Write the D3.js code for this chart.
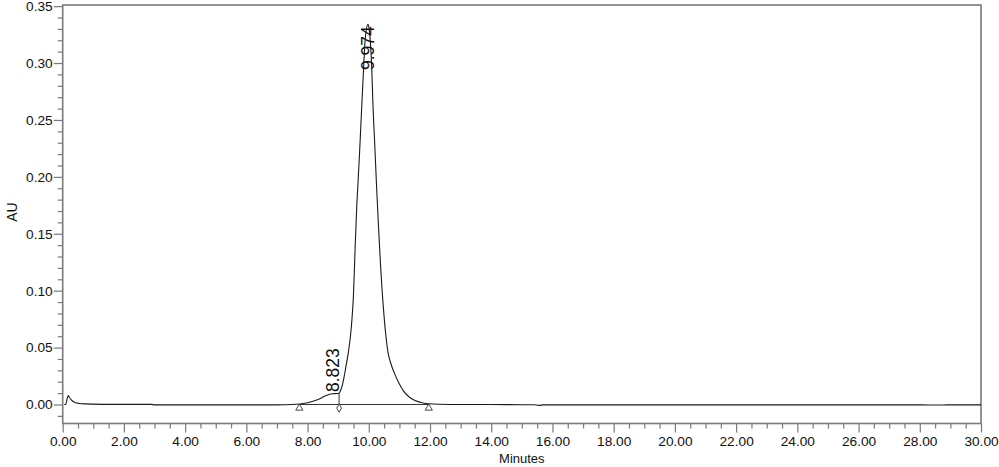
<!DOCTYPE html>
<html>
<head>
<meta charset="utf-8">
<script src="https://cdn.jsdelivr.net/npm/d3@7/dist/d3.min.js"></script>
<style>
  html, body { margin: 0; padding: 0; background: #fff; }
  svg { display: block; font-family: "Liberation Sans", Arial, sans-serif; }
</style>
</head>
<body>
<svg id="chart" width="999" height="467"></svg>
<script>
// ---- data ----
const times = [0.05, 0.10, 0.14, 0.18, 0.22, 0.30, 0.40, 0.55, 0.75, 1.0, 1.5, 2.0, 2.9, 3.0, 3.1, 4.0, 5.0, 6.0, 7.0, 7.5, 7.75,
  8.0, 8.2, 8.4, 8.55, 8.7, 8.823, 8.95, 9.03, 9.08, 9.12, 9.17, 9.25, 9.333, 9.40, 9.45, 9.497, 9.55, 9.608, 9.65, 9.70, 9.74, 9.782, 9.824, 9.88, 9.974,
  10.01, 10.098, 10.131, 10.20, 10.26, 10.32, 10.38, 10.44, 10.50, 10.56, 10.62, 10.72, 10.86, 11.0, 11.13, 11.30, 11.51, 11.75, 11.95, 12.3,
  13.0, 14.0, 15.0, 15.4, 15.55, 15.7, 16.0, 17.0, 18.0, 20.0, 22.0, 24.0, 26.0, 28.0, 28.6, 28.9, 30.0];
const absorbance = [0.0, 0.0002, 0.0045, 0.0079, 0.0062, 0.0035, 0.0018, 0.0009, 0.0005, 0.0003, 0.0001, 0.0001, 0.0001, -0.0003, -0.0003, -0.0003, -0.0003, -0.0003, -0.0003, 0.0, 0.0005,
  0.0015, 0.003, 0.005, 0.0072, 0.0088, 0.0094, 0.0096, 0.0099, 0.0125, 0.0155, 0.021, 0.033, 0.046, 0.060, 0.075, 0.095, 0.135, 0.175, 0.196, 0.222, 0.245, 0.269, 0.292, 0.320, 0.334,
  0.330, 0.294, 0.267, 0.225, 0.188, 0.155, 0.124, 0.098, 0.077, 0.060, 0.047, 0.036, 0.026, 0.018, 0.012, 0.0070, 0.0035, 0.0015, 0.0006, 0.0002,
  0.0, 0.0, -0.0002, -0.0002, -0.0008, -0.0003, -0.0003, -0.0003, -0.0003, -0.0003, -0.0003, -0.0003, -0.0003, -0.0003, -0.0005, -0.0003, -0.0003];

const peakTimes = [8.823, 9.974];
const peakLabels = ["8.823", "9.974"];
const baselineStart = [7.73];
const baselineEnd = [11.96];
const valleyTimes = [9.03];

const xMajorTicks = [0, 2, 4, 6, 8, 10, 12, 14, 16, 18, 20, 22, 24, 26, 28, 30];
const yMajorTicks = [0.00, 0.05, 0.10, 0.15, 0.20, 0.25, 0.30, 0.35];

// ---- layout ----
const svg = d3.select("#chart");
const L = 62.7, R = 981, T = 5, B = 423.5;
const x = d3.scaleLinear().domain([0, 30]).range([L, R]);
const y = d3.scaleLinear().domain([-0.0167, 0.351]).range([B, T]);

const frameColor = "#7a7a7a";

// minor ticks
const xMinor = d3.range(0, 30.001, 0.5).filter(v => Math.abs(v % 2) > 1e-6);
const yMinor = d3.range(-0.01, 0.3501, 0.01).filter(v => Math.abs(Math.round(v * 100) % 5) !== 0);

const gx = svg.append("g").attr("transform", `translate(0,${B})`);
gx.call(d3.axisBottom(x).tickValues(xMinor).tickSize(5).tickFormat(""));
gx.call(g => g.selectAll(".domain").remove());
const gx2 = svg.append("g").attr("transform", `translate(0,${B})`);
gx2.call(d3.axisBottom(x).tickValues(xMajorTicks).tickSize(9).tickPadding(4).tickFormat(d3.format(".2f")));
gx2.select(".domain").remove();
[gx, gx2].forEach(g => g.selectAll("line").attr("stroke", frameColor).attr("stroke-width", 1.2));
gx2.selectAll("text").attr("font-size", "13.7px").attr("fill", "#111")
   .attr("font-family", "'Liberation Sans', Arial, sans-serif");

const gy = svg.append("g").attr("transform", `translate(${L},0)`);
gy.call(d3.axisLeft(y).tickValues(yMinor).tickSize(5).tickFormat(""));
gy.select(".domain").remove();
const gy2 = svg.append("g").attr("transform", `translate(${L},0)`);
gy2.call(d3.axisLeft(y).tickValues(yMajorTicks).tickSize(9).tickPadding(1).tickFormat(d3.format(".2f")));
gy2.select(".domain").remove();
[gy, gy2].forEach(g => g.selectAll("line").attr("stroke", frameColor).attr("stroke-width", 1.2));
gy2.selectAll("text").attr("font-size", "13.7px").attr("fill", "#111")
   .attr("font-family", "'Liberation Sans', Arial, sans-serif");

// frame
svg.append("rect").attr("x", L).attr("y", T).attr("width", R - L).attr("height", B - T)
  .attr("fill", "none").attr("stroke", frameColor).attr("stroke-width", 1.6);

// axis titles
svg.append("text").attr("x", (L + R) / 2).attr("y", 463).attr("text-anchor", "middle")
  .attr("font-size", "13px").attr("fill", "#111").text("Minutes");
svg.append("text").attr("transform", `translate(17,212) rotate(-90)`).attr("text-anchor", "middle")
  .attr("font-size", "14px").attr("fill", "#111").text("AU");

// baseline
const y0 = y(0);
svg.append("line").attr("x1", x(baselineStart[0])).attr("x2", x(baselineEnd[0]))
  .attr("y1", y0).attr("y2", y0).attr("stroke", "#333").attr("stroke-width", 1);

// drop line at valley
const interp = t => {
  const i = d3.bisectLeft(times, t);
  const t0 = times[i - 1], t1 = times[i];
  const a0 = absorbance[i - 1], a1 = absorbance[i];
  return a0 + (a1 - a0) * (t - t0) / (t1 - t0);
};
valleyTimes.forEach(t => {
  svg.append("line").attr("x1", x(t)).attr("x2", x(t)).attr("y1", y(interp(t))).attr("y2", y0 + 1)
    .attr("stroke", "#333").attr("stroke-width", 1);
});

// chromatogram trace
const pts = times.map((t, i) => [t, absorbance[i]]);
svg.append("path").datum(pts)
  .attr("fill", "none").attr("stroke", "#1a1a1a").attr("stroke-width", 1.1)
  .attr("d", d3.line().x(d => x(d[0])).y(d => y(d[1])).curve(d3.curveMonotoneX));

// markers
const tri = d3.symbol().type(d3.symbolTriangle).size(22);
baselineStart.concat(baselineEnd).forEach(t => {
  svg.append("path").attr("d", tri()).attr("transform", `translate(${x(t)},${y0 + 3.6})`)
    .attr("fill", "#fff").attr("stroke", "#333").attr("stroke-width", 0.9);
});
const dia = d3.symbol().type(d3.symbolDiamond).size(20);
valleyTimes.forEach(t => {
  svg.append("path").attr("d", dia()).attr("transform", `translate(${x(t)},${y0 + 3.6})`)
    .attr("fill", "#fff").attr("stroke", "#333").attr("stroke-width", 0.9);
});

// peak labels (rotated)
const labelStartY = [392, 70];
peakTimes.forEach((t, i) => {
  svg.append("text")
    .attr("transform", `translate(${x(t) + 6},${labelStartY[i]}) rotate(-90)`)
    .attr("text-anchor", "start").attr("font-size", "17.5px").attr("fill", "#111")
    .text(peakLabels[i]);
});
</script>
</body>
</html>
